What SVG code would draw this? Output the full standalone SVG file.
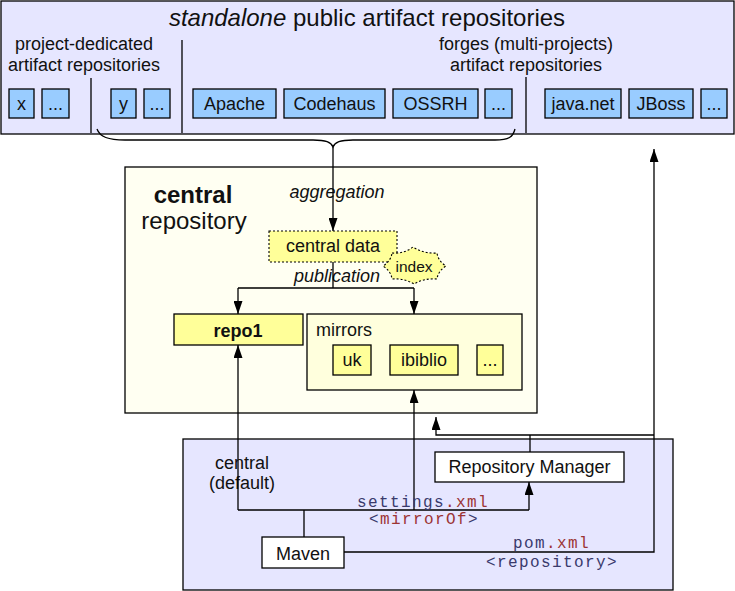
<svg xmlns="http://www.w3.org/2000/svg" width="735" height="591" viewBox="0 0 735 591">
<defs>
<marker id="ah" viewBox="0 0 13 9" refX="13" refY="4.5" markerWidth="13" markerHeight="9" markerUnits="userSpaceOnUse" orient="auto">
<path d="M0,0 L13,4.5 L0,9 z" fill="#000"/>
</marker>
</defs>
<style>
text{font-family:"Liberation Sans",Arial,sans-serif;fill:#111;}
.t17{font-size:18px;}
.mid{text-anchor:middle;}
.blue{fill:#99ccff;stroke:#000;stroke-width:1.3;}
.yel{fill:#ffff99;stroke:#000;stroke-width:1.3;}
.white{fill:#fff;stroke:#000;stroke-width:1.3;}
.lav{fill:#e6e6ff;stroke:#000;stroke-width:1.3;}
.ln{fill:none;stroke:#000;stroke-width:1.3;}
.arr{fill:none;stroke:#000;stroke-width:1.3;marker-end:url(#ah);}
.code{font-family:"Liberation Mono","Courier New",monospace;font-size:16px;letter-spacing:1.4px;fill:#3a3a6c;}
.red{fill:#9c3434;}
</style>

<g id="public-repos">
<rect class="lav" x="1" y="1" width="733" height="133"/>
<text x="367" y="26" font-size="24" class="mid"><tspan font-style="italic">standalone</tspan> public artifact repositories</text>
<text x="84" y="50" class="t17 mid">project-dedicated</text>
<text x="84" y="71" class="t17 mid">artifact repositories</text>
<text x="526" y="50" class="t17 mid">forges (multi-projects)</text>
<text x="526" y="71" class="t17 mid">artifact repositories</text>
<line class="ln" x1="91" y1="78" x2="91" y2="133"/>
<line class="ln" x1="182" y1="40" x2="182" y2="133"/>
<line class="ln" x1="526" y1="77" x2="526" y2="133"/>
</g>

<g id="repo-x"><rect class="blue" x="9" y="89" width="25" height="29"/><text x="21.5" y="110" class="t17 mid">x</text></g>
<g id="repo-etc1"><rect class="blue" x="42" y="89" width="27" height="29"/><text x="55.5" y="110" class="t17 mid">...</text></g>
<g id="repo-y"><rect class="blue" x="111" y="89" width="25" height="29"/><text x="123.5" y="110" class="t17 mid">y</text></g>
<g id="repo-etc2"><rect class="blue" x="144" y="89" width="26" height="29"/><text x="157" y="110" class="t17 mid">...</text></g>
<g id="repo-apache"><rect class="blue" x="193" y="89" width="83" height="29"/><text x="234.5" y="110" class="t17 mid">Apache</text></g>
<g id="repo-codehaus"><rect class="blue" x="284" y="89" width="101" height="29"/><text x="334.5" y="110" class="t17 mid">Codehaus</text></g>
<g id="repo-ossrh"><rect class="blue" x="393" y="89" width="85" height="29"/><text x="435.5" y="110" class="t17 mid">OSSRH</text></g>
<g id="repo-etc3"><rect class="blue" x="485" y="89" width="27" height="29"/><text x="498.5" y="110" class="t17 mid">...</text></g>
<g id="repo-javanet"><rect class="blue" x="545" y="89" width="76" height="29"/><text x="583" y="110" class="t17 mid">java.net</text></g>
<g id="repo-jboss"><rect class="blue" x="629" y="89" width="64" height="29"/><text x="661" y="110" class="t17 mid">JBoss</text></g>
<g id="repo-etc4"><rect class="blue" x="701" y="89" width="26" height="29"/><text x="714" y="110" class="t17 mid">...</text></g>

<g id="central-repository">
<rect x="125" y="167" width="412" height="246" fill="#fffff2" stroke="#000" stroke-width="1.3"/>
<text x="193" y="203" font-size="24" font-weight="bold" class="mid">central</text>
<text x="194" y="229" font-size="24" class="mid">repository</text>
<text x="337" y="198" class="t17 mid" font-style="italic">aggregation</text>
<text x="337" y="282" class="t17 mid" font-style="italic">publication</text>
</g>

<g id="central-data">
<rect x="269" y="231" width="128" height="31" fill="#ffff99" stroke="#000" stroke-width="1.1" stroke-dasharray="2,2"/>
<text x="333" y="252" class="t17 mid">central data</text>
</g>

<g id="index">
<path d="M392,253 Q404,254 413,247 Q424,254 437,253 Q438,261 446,266 Q438,271 437,279 Q424,278 414,284 Q404,278 392,279 Q391,271 383,266 Q391,261 392,253 Z" fill="#ffff99" stroke="#000" stroke-width="1.1" stroke-dasharray="2,2"/>
<text x="414" y="272" font-size="15.5" class="mid">index</text>
</g>

<g id="repo1">
<rect class="yel" x="174" y="314" width="129" height="31"/>
<text x="238" y="337" class="t17 mid" font-weight="bold">repo1</text>
</g>

<g id="mirrors">
<rect x="307" y="314" width="215" height="76" fill="#ffffdd" stroke="#000" stroke-width="1.3"/>
<text x="316" y="336" class="t17">mirrors</text>
</g>
<g id="mirror-uk"><rect class="yel" x="333" y="345" width="38" height="30"/><text x="352" y="366" class="t17 mid">uk</text></g>
<g id="mirror-ibiblio"><rect class="yel" x="390" y="345" width="68" height="30"/><text x="424" y="366" class="t17 mid">ibiblio</text></g>
<g id="mirror-etc"><rect class="yel" x="477" y="345" width="26" height="30"/><text x="490" y="366" class="t17 mid">...</text></g>

<g id="user-env">
<rect class="lav" x="183" y="439" width="490" height="151"/>
<text x="242" y="469" class="t17 mid">central</text>
<text x="242" y="489" class="t17 mid">(default)</text>
</g>

<g id="connectors">
<path class="ln" d="M97,129 C100,137 108,140 125,140 L313,140 C326,140 331,142 333,147 C335,142 340,140 353,140 L495,140 C509,140 513,137 515,129"/>
<path class="arr" d="M333,147 V231"/>
<path class="ln" d="M333,262 V288 M238,288 H414"/>
<path class="arr" d="M238,288 V314"/>
<path class="arr" d="M414,288 V314"/>
<path class="ln" d="M304,537 V510 M238,510 H529"/>
<path class="arr" d="M238,510 V345"/>
<path class="arr" d="M414,510 V390"/>
<path class="arr" d="M529,510 V482"/>
<path class="ln" d="M530,452 V435"/>
<path class="arr" d="M654,435 H436 V417"/>
<path class="arr" d="M344,552 H654 V149"/>
</g>

<g id="repository-manager">
<rect class="white" x="435" y="452" width="189" height="30"/>
<text x="529.5" y="473" class="t17 mid">Repository Manager</text>
</g>

<g id="maven">
<rect class="white" x="262" y="537" width="82" height="31"/>
<text x="303" y="560" class="t17 mid">Maven</text>
</g>

<g id="code-labels">
<text x="357" y="507" class="code">settings<tspan class="red">.xml</tspan></text>
<text x="369" y="524" class="code">&lt;<tspan class="red">mirrorOf</tspan>&gt;</text>
<text x="513" y="548" class="code">pom<tspan class="red">.xml</tspan></text>
<text x="486" y="567" class="code">&lt;repository&gt;</text>
</g>
</svg>
